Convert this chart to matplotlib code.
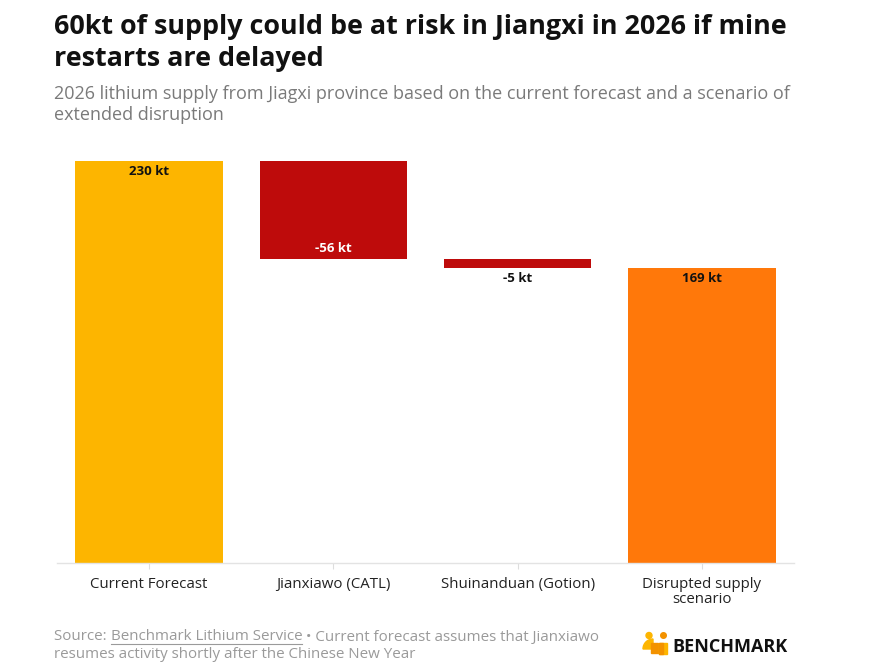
import matplotlib
matplotlib.use("Agg")
import matplotlib.pyplot as plt
from matplotlib.patches import Circle, Rectangle, Polygon, Wedge

categories = ["Current Forecast", "Jianxiawo (CATL)", "Shuinanduan (Gotion)", "Disrupted supply\nscenario"]
values = [230, -56, -5, 169]
kinds = ["total", "delta", "delta", "total"]
value_labels = ["230 kt", "-56 kt", "-5 kt", "169 kt"]
colors = ["#FDB500", "#BE0B0B", "#BE0B0B", "#FF780A"]
label_colors = ["#111111", "#FFFFFF", "#111111", "#111111"]

FONT = "Open Sans"
plt.rcParams["font.family"] = [FONT, "DejaVu Sans"]

W, H = 869, 671
fig = plt.figure(figsize=(W / 100, H / 100), dpi=100)
ax = fig.add_axes([57 / W, 1 - 563 / H, (794 - 57) / W, (563 - 161) / H])

running = 0
for i, (v, k) in enumerate(zip(values, kinds)):
    if k == "total":
        bottom, height = 0, v
        running = v
        top = v
    else:
        bottom = running + v
        height = -v
        top = running
        running = running + v
    ax.bar(i, height, bottom=bottom, width=0.8, color=colors[i], edgecolor="none")
    if k == "total":
        ax.annotate(value_labels[i], (i, top), xytext=(0, -7.5), textcoords="offset points",
                    ha="center", va="center", fontsize=9.5, fontweight="bold", color=label_colors[i])
    elif i == 1:
        ax.annotate(value_labels[i], (i, bottom), xytext=(0, 7.2), textcoords="offset points",
                    ha="center", va="center", fontsize=9.5, fontweight="bold", color=label_colors[i])
    else:
        ax.annotate(value_labels[i], (i, bottom), xytext=(0, -7.5), textcoords="offset points",
                    ha="center", va="center", fontsize=9.5, fontweight="bold", color=label_colors[i])

ax.set_xlim(-0.5, len(categories) - 0.5)
ax.set_ylim(0, 230)
ax.set_yticks([])
ax.set_xticks(range(len(categories)))
ax.set_xticklabels(categories, fontsize=10.8, color="#222222", linespacing=1.0)
ax.tick_params(axis="x", length=4, color="#DDDDDD", pad=6)
for s in ["top", "right", "left"]:
    ax.spines[s].set_visible(False)
ax.spines["bottom"].set_color("#E3E3E3")
ax.spines["bottom"].set_linewidth(1.0)

# Title & subtitle
fig.text(54 / W, 1 - 27 / H, "60kt of supply could be at risk in Jiangxi in 2026 if mine",
         fontsize=19.4, fontweight="bold", color="#111111", va="center", ha="left")
fig.text(54 / W, 1 - 59 / H, "restarts are delayed",
         fontsize=19.4, fontweight="bold", color="#111111", va="center", ha="left")
fig.text(54 / W, 1 - 94 / H, "2026 lithium supply from Jiagxi province based on the current forecast and a scenario of",
         fontsize=13, color="#7A7A7A", va="center", ha="left")
fig.text(54 / W, 1 - 115 / H, "extended disruption",
         fontsize=13, color="#7A7A7A", va="center", ha="left")

# Footer
fx, fy1, fy2 = 54 / W, 1 - 637 / H, 1 - 655 / H
fs = 10.9
t_pre = fig.text(fx, fy1, "Source: ", fontsize=fs, color="#9A9A9A", va="center", ha="left")
fig.canvas.draw()
r = fig.canvas.get_renderer()
bb = t_pre.get_window_extent(r)
x2 = bb.x1 / W
t_link = fig.text(x2, fy1, "Benchmark Lithium Service", fontsize=fs, color="#9A9A9A", va="center", ha="left")
bb2 = t_link.get_window_extent(r)
fig.add_artist(plt.Line2D([bb2.x0 / W, bb2.x1 / W], [(bb2.y0 + 1) / H, (bb2.y0 + 1) / H],
                          color="#9A9A9A", lw=0.8, transform=fig.transFigure))
fig.text(bb2.x1 / W, fy1, " \u2022 Current forecast assumes that Jianxiawo", fontsize=fs,
         color="#9A9A9A", va="center", ha="left")
fig.text(fx, fy2, "resumes activity shortly after the Chinese New Year", fontsize=fs,
         color="#9A9A9A", va="center", ha="left")

# Logo
lax = fig.add_axes([638 / W, 1 - 660 / H, 157 / W, 32 / H])
lax.set_xlim(638, 795)
lax.set_ylim(660, 628)
lax.set_aspect("equal")
lax.axis("off")
lax.add_patch(Circle((649, 635.5), 3.0, color="#FDB500"))
lax.add_patch(Wedge((653, 649), 10, 180, 270, color="#FDB500"))
lax.add_patch(Rectangle((651, 643), 7, 10, color="#F39200"))
lax.add_patch(Circle((663.5, 635.5), 2.8, color="#F39200"))
lax.add_patch(Rectangle((659, 643), 8, 11, color="#FDB500"))
lax.add_patch(Rectangle((659, 643), 4, 11, color="#F39200"))
lax.text(672, 647.5, "BENCHMARK", fontsize=13, fontweight="bold", color="#111111",
         ha="left", va="center")

fig.savefig("out.png", dpi=100, facecolor="white")
